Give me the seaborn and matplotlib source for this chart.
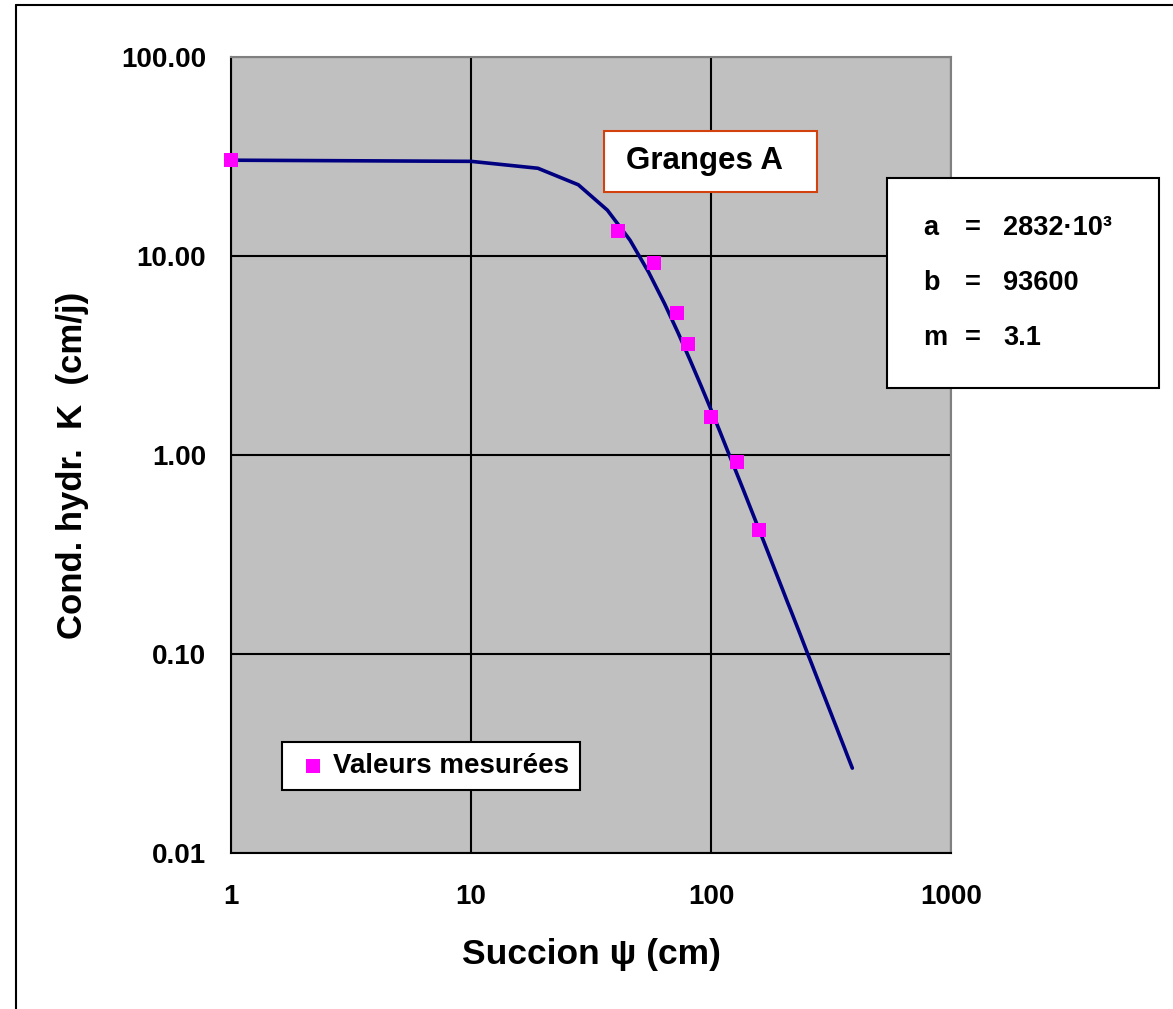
import numpy as np
import matplotlib
matplotlib.use("Agg")
import matplotlib.pyplot as plt
import seaborn as sns
from matplotlib.patches import Rectangle
from matplotlib.lines import Line2D

# fitted curve K(psi)
psi_curve = [1, 10, 19, 28, 37, 46, 55, 64, 73, 82, 91, 100, 109, 118, 127,
             136, 145, 154, 163, 172, 181, 190, 199, 208, 217, 226, 235, 244,
             253, 262, 271, 280, 289, 298, 307, 316, 325, 334, 343, 352, 361,
             370, 379, 388]
k_curve = [30.3, 29.9, 27.6, 22.8, 17.0, 12.0, 8.28, 5.77, 4.10, 2.98, 2.22,
           1.69, 1.31, 1.03, 0.828, 0.674, 0.554, 0.461, 0.388, 0.329, 0.281,
           0.242, 0.210, 0.183, 0.161, 0.142, 0.126, 0.112, 0.100, 0.090,
           0.081, 0.0732, 0.0664, 0.0604, 0.0551, 0.0504, 0.0462, 0.0425,
           0.0391, 0.0361, 0.0334, 0.0309, 0.0287, 0.0267]

# measured values
psi_meas = [1, 41, 58, 72, 80, 100, 128, 158]
k_meas = [30.5, 13.4, 9.2, 5.2, 3.6, 1.55, 0.92, 0.42]

x_ticks = [1, 10, 100, 1000]
y_ticks = [0.01, 0.1, 1, 10, 100]

param_names = ["a", "b", "m"]
param_values = ["2832·10³", "93600", "3.1"]

sns.set_theme(style="white")
plt.rcParams['font.family'] = ['Liberation Sans', 'DejaVu Sans']
plt.rcParams['font.weight'] = 'bold'
plt.rcParams['text.color'] = 'black'
plt.rcParams['axes.labelcolor'] = 'black'
plt.rcParams['xtick.color'] = 'black'
plt.rcParams['ytick.color'] = 'black'

W, H = 1173, 1009
fig = plt.figure(figsize=(W / 100, H / 100), dpi=100)
ax = fig.add_axes([231 / W, 1 - 853 / H, 720 / W, 796 / H])
ax.set_facecolor('#C0C0C0')

sns.lineplot(x=psi_curve, y=k_curve, ax=ax, color='#000080', lw=2.6,
             sort=False, estimator=None, zorder=3)
sns.scatterplot(x=psi_meas, y=k_meas, ax=ax, marker='s', s=90, color='#FF00FF',
                linewidth=0, zorder=4, clip_on=False, label='Valeurs mesurées')

ax.set_xscale('log')
ax.set_yscale('log')
ax.set_xlim(1, 1000)
ax.set_ylim(0.01, 100)
ax.set_xticks(x_ticks)
ax.set_xticklabels([str(t) for t in x_ticks])
ax.set_yticks(y_ticks)
ax.set_yticklabels(['%.2f' % t for t in y_ticks])
ax.minorticks_off()
ax.tick_params(axis='both', which='major', direction='out', length=7, width=1.5,
               color='black', labelsize=20, labelcolor='black')
ax.tick_params(axis='x', pad=15)
ax.tick_params(axis='y', pad=11)
for lab in ax.get_xticklabels() + ax.get_yticklabels():
    lab.set_fontweight('bold')
ax.grid(True, which='major', color='black', lw=1.5)

for s in ['left', 'bottom']:
    ax.spines[s].set_color('black')
    ax.spines[s].set_linewidth(1.5)
for s in ['top', 'right']:
    ax.spines[s].set_color('#808080')
    ax.spines[s].set_linewidth(1.5)

ax.set_xlabel('Succion ψ (cm)', fontsize=25.5, fontweight='bold', color='black')
ax.set_ylabel('Cond. hydr.  K  (cm/j)', fontsize=25, fontweight='bold', color='black')
ax.xaxis.set_label_coords(0.5, -0.107)
ax.yaxis.set_label_coords(-0.197, 0.487)

# legend box
leg = ax.legend(loc='upper left', bbox_to_anchor=(0.0708, 0.1394), borderaxespad=0,
                fontsize=20, frameon=True, fancybox=False, framealpha=1,
                edgecolor='black', borderpad=0.4, handlelength=1.4,
                handletextpad=0.05)
leg.get_frame().set_linewidth(1.5)
for t in leg.get_texts():
    t.set_fontweight('bold')
    t.set_color('black')

# title box
ax.add_patch(Rectangle((0.518, 0.830), 0.296, 0.0766, transform=ax.transAxes,
                       facecolor='white', edgecolor='#D2420F', lw=1.5, zorder=5))
ax.text(0.658, 0.869, 'Granges A', transform=ax.transAxes, ha='center', va='center',
        fontsize=22.5, fontweight='bold', color='black', zorder=6)

# parameter box
fig.add_artist(Rectangle((887 / W, 1 - 388 / H), 272 / W, 210 / H, transform=fig.transFigure,
                         facecolor='white', edgecolor='black', lw=1.5, zorder=5))
row_y = [228, 283, 338]
for name, val, py in zip(param_names, param_values, row_y):
    fig.text(923 / W, 1 - py / H, name, ha='left', va='center', fontsize=19.5,
             fontweight='bold', color='black', zorder=6)
    fig.text(973 / W, 1 - py / H, '=', ha='center', va='center', fontsize=19.5,
             fontweight='bold', color='black', zorder=6)
    fig.text(1003 / W, 1 - py / H, val, ha='left', va='center', fontsize=19.5,
             fontweight='bold', color='black', zorder=6)

# outer frame (cut at right and bottom)
fig.add_artist(Line2D([16 / W, 16 / W], [0, 1 - 5 / H], color='black', lw=1.5))
fig.add_artist(Line2D([16 / W, 1], [1 - 5 / H, 1 - 5 / H], color='black', lw=1.5))

plt.savefig('out.png', dpi=100)
